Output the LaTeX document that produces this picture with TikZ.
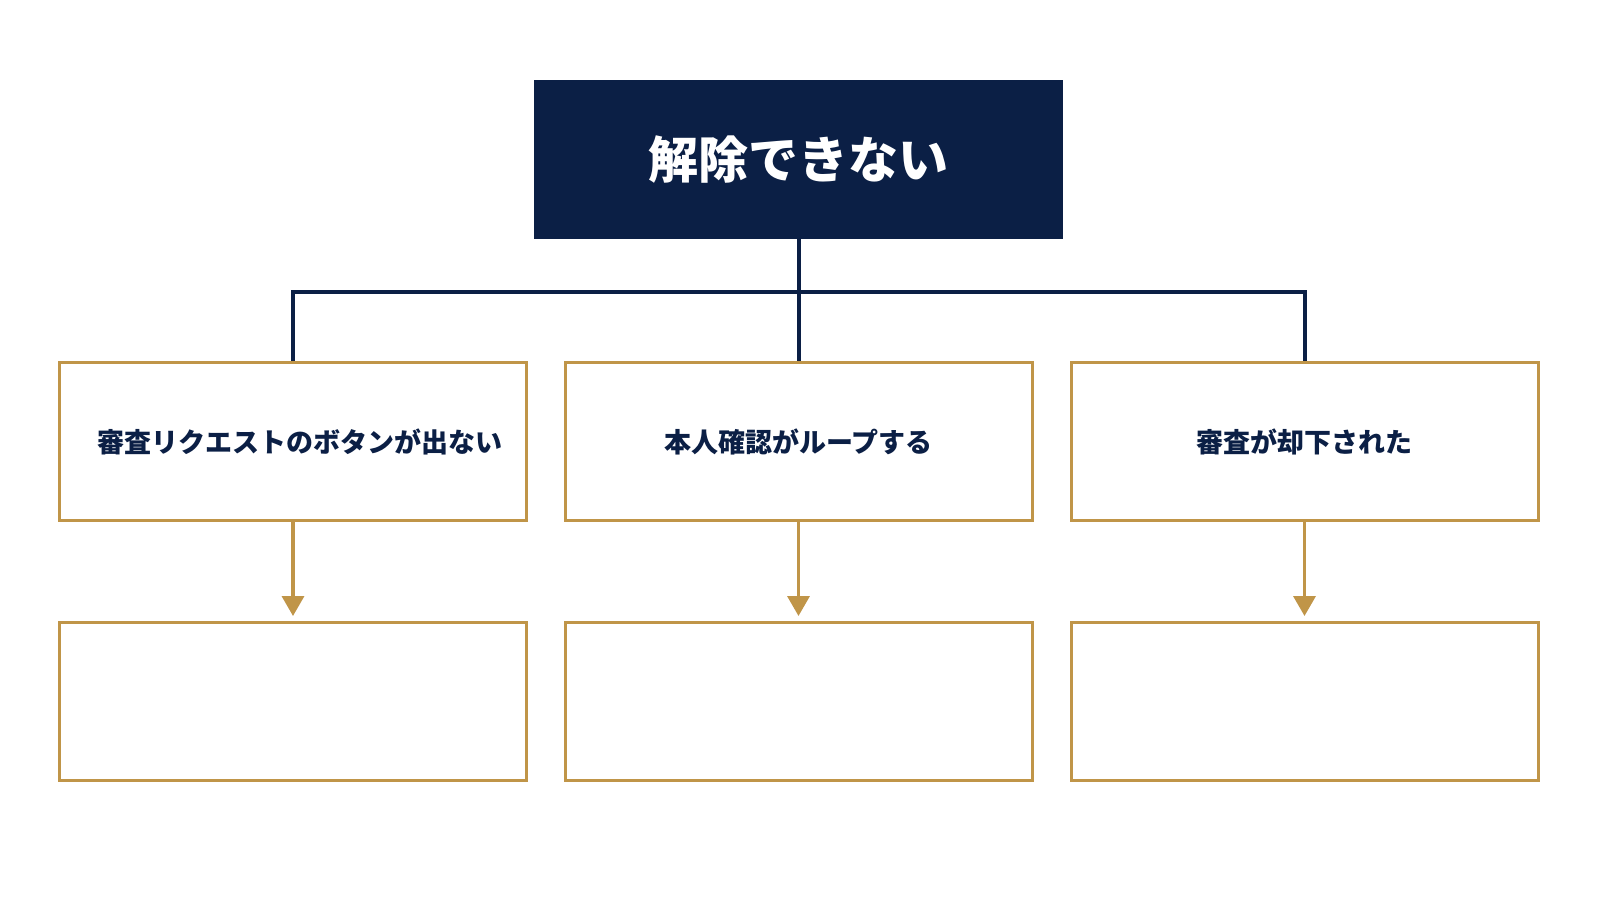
\documentclass[tikz,border=0pt]{standalone}
\usepackage{fontspec}
\newfontfamily\jp{Noto Sans CJK JP}
\usetikzlibrary{calc}
\usetikzlibrary{arrows.meta}
\definecolor{navy}{HTML}{0B1F45}
\definecolor{gold}{HTML}{C09548}

\begin{document}
\begin{tikzpicture}[x=1pt,y=-1pt,
	topbox/.style={fill=navy, draw=navy, minimum width=528pt, minimum height=158pt, inner sep=0pt, text=white, font=\jp\bfseries\fontsize{50}{58}\selectfont},
	causebox/.style={draw=gold, line width=3pt, fill=white, minimum width=467pt, minimum height=158pt, inner sep=0pt, text=navy, font=\jp\bfseries\fontsize{27}{32}\selectfont},
	link/.style={draw=navy, line width=4pt},
	arr/.style={draw=gold, line width=3.5pt, -{Triangle[length=20pt,width=22pt]}, shorten >=5pt}]
			\useasboundingbox[fill=white] (0,0) rectangle (1600,900);

			\node[topbox] (root) at (798.5,159.5) {解除できない};

			\node[causebox] (c1) at (293,441.5) {\hspace*{14pt}審査リクエストのボタンが出ない};
			\node[causebox] (c2) at ($(root)+(0,282)$) {本人確認がループする};
			\node[causebox] (c3) at (1304.5,441.5) {審査が却下された};

			\node[causebox] (r1) at ($(c1)+(0,260)$) {};
			\node[causebox] (r2) at ($(c2)+(0,260)$) {};
			\node[causebox] (r3) at ($(c3)+(0,260)$) {};

			\coordinate (bus) at ($(root.south)+(0,53)$);

			\draw[link] (root.south) -- (c2.north);
			\draw[link] (c1.north) -- (c1.north |- bus) -- (c3.north |- bus) -- (c3.north);

			\draw[arr] (c1.south) -- (r1.north);
			\draw[arr] (c2.south) -- (r2.north);
			\draw[arr] (c3.south) -- (r3.north);

		\end{tikzpicture}
\end{document}
